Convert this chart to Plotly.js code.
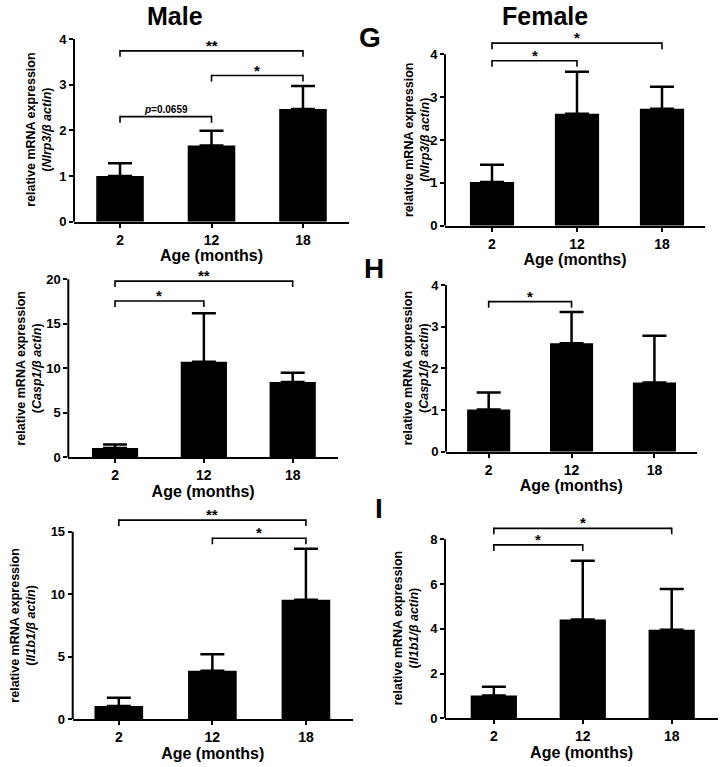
<!DOCTYPE html>
<html>
<head>
<meta charset="utf-8">
<script src="https://cdn.plot.ly/plotly-3.0.1.min.js"></script>
<style>html,body{margin:0;padding:0;background:#fff;}#chart{width:723px;height:767px;}</style>
</head>
<body>
<div id="chart"></div>
<script>
// ---- data ----
const ages = ['2', '12', '18'];
const maleNlrp3 = [1.0, 1.67, 2.47];
const maleNlrp3Sem = [0.28, 0.32, 0.50];
const femaleNlrp3 = [1.02, 2.61, 2.73];
const femaleNlrp3Sem = [0.40, 0.98, 0.51];
const maleCasp1 = [1.05, 10.74, 8.45];
const maleCasp1Sem = [0.40, 5.45, 1.05];
const femaleCasp1 = [1.01, 2.60, 1.66];
const femaleCasp1Sem = [0.41, 0.75, 1.12];
const maleIl1b = [1.05, 3.87, 9.55];
const maleIl1bSem = [0.65, 1.31, 4.09];
const femaleIl1b = [1.02, 4.42, 3.96];
const femaleIl1bSem = [0.39, 2.62, 1.82];

// significance brackets: [from index, to index, level, label]
const maleNlrp3Sig = [[0, 2, 3.74, '**'], [1, 2, 3.20, '*'], [0, 1, 2.30, '<i>p</i>=0.0659']];
const femaleNlrp3Sig = [[0, 2, 4.26, '*'], [0, 1, 3.85, '*']];
const maleCasp1Sig = [[0, 2, 19.8, '**'], [0, 1, 17.56, '*']];
const femaleCasp1Sig = [[0, 1, 3.60, '*']];
const maleIl1bSig = [[0, 2, 15.93, '**'], [1, 2, 14.47, '*']];
const femaleIl1bSig = [[0, 2, 8.49, '*'], [0, 1, 7.75, '*']];

const yTicksNlrp3M = [0, 1, 2, 3, 4];
const yTicksNlrp3F = [0, 1, 2, 3, 4];
const yTicksCasp1M = [0, 5, 10, 15, 20];
const yTicksCasp1F = [0, 1, 2, 3, 4];
const yTicksIl1bM = [0, 5, 10, 15];
const yTicksIl1bF = [0, 2, 4, 6, 8];

// ---- layout geometry ----
const W = 723, H = 767;
const FONT = 'Liberation Sans, Arial, sans-serif';
function dom(px0, px1, pyBottom, pyTick, maxTick, rangeTop) {
  const ppu = (pyBottom - pyTick) / maxTick;
  const pyTop = pyBottom - ppu * rangeTop;
  return { x: [px0 / W, px1 / W], y: [1 - pyBottom / H, 1 - pyTop / H],
           spineMid: 1 - (pyBottom + pyTick) / 2 / H };
}

const panels = [
  { v: maleNlrp3, e: maleNlrp3Sem, sig: maleNlrp3Sig, ticks: yTicksNlrp3M, gene: 'Nlrp3',
    d: dom(74, 349, 221.7, 39, 4, 4.1), yr: [0, 4.1], xr: [-0.503, 2.503], tx: 39.5 },
  { v: femaleNlrp3, e: femaleNlrp3Sem, sig: femaleNlrp3Sig, ticks: yTicksNlrp3F, gene: 'Nlrp3',
    d: dom(445, 705, 225.7, 54.3, 4, 4.45), yr: [0, 4.45], xr: [-0.553, 2.506], tx: 417 },
  { v: maleCasp1, e: maleCasp1Sem, sig: maleCasp1Sig, ticks: yTicksCasp1M, gene: 'Casp1',
    d: dom(68.3, 338, 457.3, 279.3, 20, 20.3), yr: [0, 20.3], xr: [-0.526, 2.51], tx: 29.2 },
  { v: femaleCasp1, e: femaleCasp1Sem, sig: femaleCasp1Sig, ticks: yTicksCasp1F, gene: 'Casp1',
    d: dom(446, 696.7, 451.7, 285, 4, 4.1), yr: [0, 4.1], xr: [-0.515, 2.51], tx: 416 },
  { v: maleIl1b, e: maleIl1bSem, sig: maleIl1bSig, ticks: yTicksIl1bM, gene: 'Il1b1',
    d: dom(72.7, 352.7, 719, 531.7, 15, 16.2), yr: [0, 16.2], xr: [-0.493, 2.50], tx: 23.3 },
  { v: femaleIl1b, e: femaleIl1bSem, sig: femaleIl1bSig, ticks: yTicksIl1bF, gene: 'Il1b1',
    d: dom(445, 718.3, 718.3, 539.3, 8, 8.7), yr: [0, 8.7], xr: [-0.549, 2.524], tx: 405.5 }
];

const traces = [];
const layout = {
  width: W, height: H,
  margin: { l: 0, r: 0, t: 0, b: 0 },
  paper_bgcolor: '#fff', plot_bgcolor: 'rgba(0,0,0,0)',
  showlegend: false,
  font: { family: FONT, color: '#000' },
  shapes: [], annotations: []
};

panels.forEach((p, i) => {
  const n = i === 0 ? '' : String(i + 1);
  const xa = 'x' + n, ya = 'y' + n;
  traces.push({
    type: 'bar', x: ages, y: p.v, xaxis: xa, yaxis: ya,
    width: 0.52,
    marker: { color: '#000', line: { width: 0 } },
    error_y: { type: 'data', symmetric: false, array: p.e, arrayminus: p.e.map(() => 0),
               color: '#000', thickness: 2.5, width: 12 },
    hoverinfo: 'skip'
  });
  layout['xaxis' + n] = {
    domain: p.d.x, anchor: ya, type: 'category', range: p.xr,
    showline: true, linewidth: 2, linecolor: '#000', showgrid: false, zeroline: false,
    ticks: 'outside', ticklen: 4, tickwidth: 2, tickcolor: '#000',
    tickfont: { family: FONT, size: 14, weight: 'bold', color: '#000' },
    title: { text: 'Age (months)', font: { family: FONT, size: 16, weight: 'bold', color: '#000' }, standoff: 2 },
    fixedrange: true
  };
  layout['yaxis' + n] = {
    domain: p.d.y, anchor: xa, range: p.yr,
    tickvals: p.ticks, ticktext: p.ticks.map(String),
    showline: false, showgrid: false, zeroline: false,
    ticks: 'outside', ticklen: 4, tickwidth: 2, tickcolor: '#000',
    tickfont: { family: FONT, size: 13, weight: 'bold', color: '#000' },
    fixedrange: true
  };
  // y-axis title (two lines, rotated)
  layout.annotations.push({ xref: 'paper', yref: 'paper', x: p.tx / W, y: p.d.spineMid,
    text: 'relative mRNA expression<br>(<i>' + p.gene + '/β actin</i>)', textangle: -90,
    showarrow: false, xanchor: 'center', yanchor: 'middle',
    font: { family: FONT, size: 12.5, weight: 'bold', color: '#000' } });
  // y spine up to the top tick
  layout.shapes.push({ type: 'line', xref: xa + ' domain', yref: ya, x0: 0, x1: 0,
    y0: 0, y1: p.ticks[p.ticks.length - 1], line: { color: '#000', width: 2 } });
  // significance brackets
  p.sig.forEach(s => {
    const [a, b, lvl, lab] = s;
    layout.shapes.push({ type: 'line', xref: xa, yref: ya, x0: a, x1: b, y0: lvl, y1: lvl,
      line: { color: '#000', width: 1.6 } });
    [a, b].forEach(xi => layout.shapes.push({ type: 'line', xref: xa, yref: ya,
      ysizemode: 'pixel', yanchor: lvl, x0: xi, x1: xi, y0: -6, y1: 0.8,
      line: { color: '#000', width: 1.6 } }));
    const isStar = lab.indexOf('*') === 0;
    layout.annotations.push({ xref: xa, yref: ya, x: (a + b) / 2, y: lvl, text: lab,
      showarrow: false, xanchor: 'center', yanchor: 'bottom', yshift: isStar ? -5 : 0,
      font: { family: FONT, size: isStar ? 15 : 10, weight: 'bold', color: '#000' } });
  });
});

// headings and panel letters
function label(text, px, py, size) {
  return { xref: 'paper', yref: 'paper', x: px / W, y: 1 - py / H, text: text, showarrow: false,
    xanchor: 'center', yanchor: 'middle',
    font: { family: FONT, size: size, weight: 'bold', color: '#000' } };
}
layout.annotations.push(
  label('Male', 175, 16, 25),
  label('Female', 545, 16, 25),
  label('G', 370, 37, 28),
  label('H', 374, 268, 28),
  label('I', 379, 508, 28)
);

Plotly.newPlot('chart', traces, layout, { staticPlot: true, displayModeBar: false });
</script>
</body>
</html>
